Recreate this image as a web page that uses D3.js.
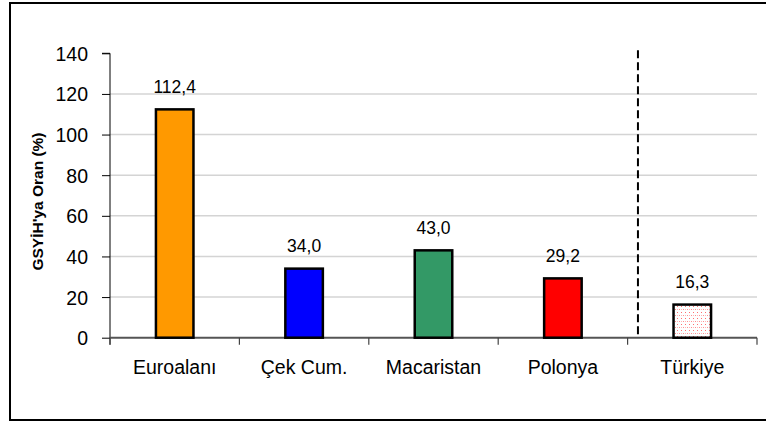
<!DOCTYPE html>
<html>
<head>
<meta charset="utf-8">
<script src="https://cdn.jsdelivr.net/npm/d3@7"></script>
<style>
  html, body { margin: 0; padding: 0; background: #fff; }
  svg { display: block; font-family: Arial, "Liberation Sans", sans-serif; }
</style>
</head>
<body>
<svg id="chart" width="766" height="423"></svg>
<script>
// Kamu borç stoku, GSYİH'ya oran (%)
const categories = ["Euroalanı", "Çek Cum.", "Macaristan", "Polonya", "Türkiye"];
const values = [112.4, 34.0, 43.0, 29.2, 16.3];
const valueLabels = ["112,4", "34,0", "43,0", "29,2", "16,3"];
const barColors = ["#FF9900", "#0000FF", "#339966", "#FF0000", "url(#dots)"];
const yTicks = [0, 20, 40, 60, 80, 100, 120, 140];
const yTitle = "GSYİH'ya Oran (%)";
const separatorBefore = "Türkiye";

const svg = d3.select("#chart");

// dotted pink fill used for the Türkiye bar
const defs = svg.append("defs");
const pat = defs.append("pattern")
  .attr("id", "dots")
  .attr("patternUnits", "userSpaceOnUse")
  .attr("width", 4).attr("height", 6);
pat.append("rect").attr("width", 4).attr("height", 6).attr("fill", "#fff");
pat.append("rect").attr("x", 1).attr("y", 0).attr("width", 1).attr("height", 1).attr("fill", "#ff7070");
pat.append("rect").attr("x", 3).attr("y", 3).attr("width", 1).attr("height", 1).attr("fill", "#ff9090");
pat.append("rect").attr("x", 1).attr("y", 3).attr("width", 1).attr("height", 1).attr("fill", "#ffb8b8");

// outer frame
svg.append("rect")
  .attr("x", 10).attr("y", 3)
  .attr("width", 780).attr("height", 417)
  .attr("fill", "none").attr("stroke", "#000").attr("stroke-width", 2);

const plot = { left: 110, right: 757, top: 53.3, bottom: 337.7 };

const x = d3.scaleBand().domain(categories).range([plot.left, plot.right]).padding(0);
const y = d3.scaleLinear().domain([0, 140]).range([plot.bottom, plot.top]);
const barW = x.bandwidth() * 0.29;

// horizontal gridlines
svg.append("g")
  .selectAll("line")
  .data(yTicks.filter(t => t > 0 && t < 140))
  .join("line")
  .attr("x1", plot.left).attr("x2", plot.right)
  .attr("y1", d => y(d)).attr("y2", d => y(d))
  .attr("stroke", "#d4d4d4").attr("stroke-width", 1.5);

// y axis
const yAxis = svg.append("g")
  .attr("transform", `translate(${plot.left},0)`)
  .call(d3.axisLeft(y).tickValues(yTicks).tickSize(8).tickPadding(14).tickFormat(d3.format("d")));
yAxis.attr("font-size", null).attr("font-family", null);
yAxis.select(".domain").attr("stroke", "#000").attr("d", `M-8,${y(140)}H0V${plot.bottom + 7}`);
yAxis.selectAll(".tick line").attr("stroke", "#000");
yAxis.selectAll(".tick text")
  .style("font-size", "19.5px")
  .style("font-family", "Arial, 'Liberation Sans', sans-serif")
  .attr("fill", "#000")
  .attr("dy", "0.36em");

// x axis
const xAxis = svg.append("g")
  .attr("transform", `translate(0,${plot.bottom})`);
xAxis.append("line")
  .attr("x1", plot.left).attr("x2", plot.right)
  .attr("y1", 0).attr("y2", 0)
  .attr("stroke", "#555").attr("stroke-width", 2);
xAxis.selectAll("line.tk")
  .data(categories.concat(["end"]))
  .join("line")
  .attr("class", "tk")
  .attr("x1", (d, i) => i < categories.length ? x(d) : x(categories[categories.length - 1]) + x.bandwidth())
  .attr("x2", (d, i) => i < categories.length ? x(d) : x(categories[categories.length - 1]) + x.bandwidth())
  .attr("y1", 0).attr("y2", 7)
  .attr("stroke", "#444").attr("stroke-width", 1.2);
xAxis.selectAll("text")
  .data(categories)
  .join("text")
  .attr("x", d => x(d) + x.bandwidth() / 2)
  .attr("y", 36.5)
  .attr("text-anchor", "middle")
  .style("font-size", "19.5px")
  .attr("fill", "#000")
  .text(d => d);

// bars
svg.append("g")
  .selectAll("rect")
  .data(categories)
  .join("rect")
  .attr("x", d => x(d) + (x.bandwidth() - barW) / 2)
  .attr("y", (d, i) => y(values[i]))
  .attr("width", barW)
  .attr("height", (d, i) => y(0) - y(values[i]))
  .attr("fill", (d, i) => barColors[i])
  .attr("stroke", "#000")
  .attr("stroke-width", 2.5);

// value labels
svg.append("g")
  .selectAll("text")
  .data(categories)
  .join("text")
  .attr("x", d => x(d) + x.bandwidth() / 2)
  .attr("y", (d, i) => y(values[i]) - 16.5)
  .attr("text-anchor", "middle")
  .style("font-size", "17.5px")
  .attr("fill", "#000")
  .text((d, i) => valueLabels[i]);

// dashed separator in front of Türkiye
const sepX = x(separatorBefore) + x.bandwidth() * 0.08;
svg.append("line")
  .attr("x1", sepX).attr("x2", sepX)
  .attr("y1", y(140) - 3).attr("y2", plot.bottom)
  .attr("stroke", "#000").attr("stroke-width", 2)
  .attr("stroke-dasharray", "8,4");

// y axis title
svg.append("text")
  .attr("transform", `translate(43,${(plot.top + plot.bottom) / 2 + 6}) rotate(-90)`)
  .attr("text-anchor", "middle")
  .style("font-size", "15.5px")
  .attr("font-weight", "bold")
  .attr("fill", "#000")
  .text(yTitle);
</script>
</body>
</html>
